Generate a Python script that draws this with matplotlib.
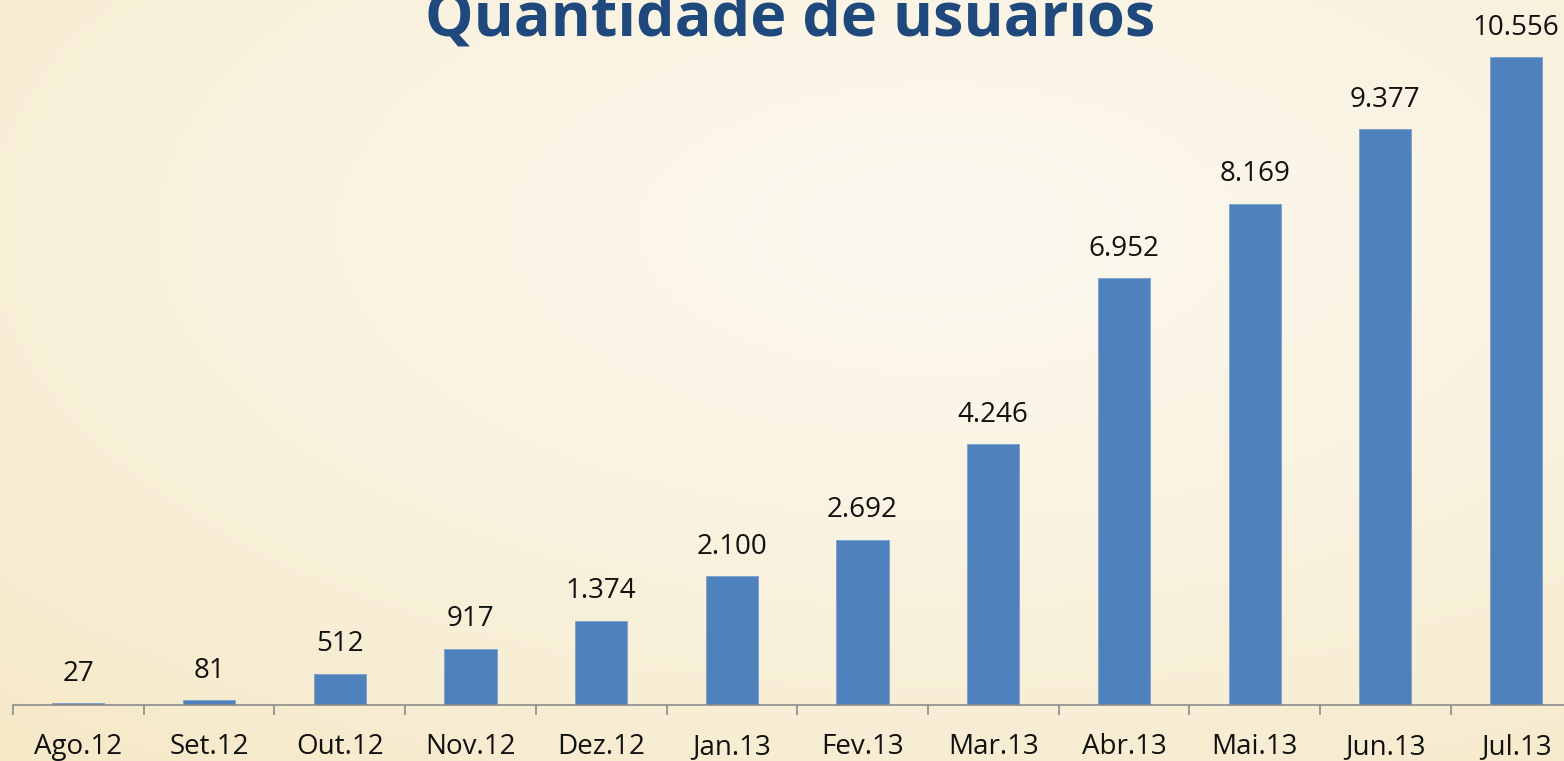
import numpy as np
import matplotlib.pyplot as plt
from matplotlib.ticker import FixedLocator

# dados
meses = ['Ago.12', 'Set.12', 'Out.12', 'Nov.12', 'Dez.12', 'Jan.13',
         'Fev.13', 'Mar.13', 'Abr.13', 'Mai.13', 'Jun.13', 'Jul.13']
usuarios = [27, 81, 512, 917, 1374, 2100, 2692, 4246, 6952, 8169, 9377, 10556]

plt.rcParams['font.family'] = ['Open Sans', 'DejaVu Sans']

W, H, DPI = 1564, 761, 100
fig = plt.figure(figsize=(W / DPI, H / DPI), dpi=DPI)

# fundo tipo pergaminho (gradiente suave, mais escuro embaixo à esquerda)
bg = fig.add_axes([0, 0, 1, 1])
yy, xx = np.mgrid[0:1:200j, 0:1:400j]
r = np.sqrt(((xx - 0.6) / 0.9) ** 2 + ((yy - 0.3) / 0.9) ** 2)
r = np.clip(r, 0, 1) ** 1.3
c_in = np.array([252, 248, 238]) / 255
c_out = np.array([246, 233, 200]) / 255
img = c_in[None, None, :] * (1 - r[..., None]) + c_out[None, None, :] * r[..., None]
bg.imshow(img, aspect='auto', extent=[0, 1, 0, 1], origin='upper')
bg.axis('off')

# eixo principal: base em y=705px, 130.7px por categoria
left = 13 / W
base = (H - 705) / H
ymax = 11500
px_per_unit = 648 / 10556
ax = fig.add_axes([left, base, 12 * 130.7 / W, ymax * px_per_unit / H])
ax.patch.set_alpha(0)

x = np.arange(len(meses))
ax.bar(x, usuarios, width=0.4, color='#4F81BD', edgecolor='#7BA0CD', linewidth=0.6)

for xi, v in zip(x, usuarios):
    ax.annotate(f'{v:,}'.replace(',', '.'), (xi, v), xytext=(0, 11),
                textcoords='offset points', ha='center', va='bottom',
                fontsize=20, color='#111111', annotation_clip=False)

ax.set_xlim(-0.5, 11.5)
ax.set_ylim(0, ymax)
ax.set_xticks(x)
ax.set_xticklabels(meses, fontsize=20, color='#111111')
ax.tick_params(axis='x', which='major', length=0, pad=20)
ax.xaxis.set_minor_locator(FixedLocator(np.arange(-0.5, 12, 1)))
ax.tick_params(axis='x', which='minor', length=7, width=1.2, color='#8C8C8C', direction='out')
ax.set_yticks([])
for s in ['top', 'right', 'left']:
    ax.spines[s].set_visible(False)
ax.spines['bottom'].set_color('#8C8C8C')
ax.spines['bottom'].set_linewidth(1.2)

fig.text(0.505, 1 - 35 / H, 'Quantidade de usuários', ha='center', va='baseline',
         fontsize=44, fontweight='bold', color='#1F497D')

fig.savefig('out.png', dpi=DPI)
